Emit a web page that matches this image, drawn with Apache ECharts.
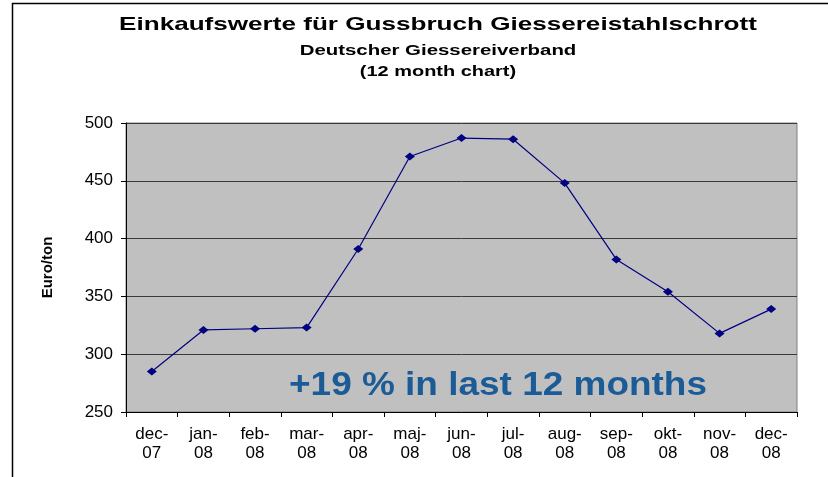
<!DOCTYPE html>
<html>
<head>
<meta charset="utf-8">
<script src="https://cdn.jsdelivr.net/npm/echarts@6/dist/echarts.min.js"></script>
<style>
  html, body { margin: 0; padding: 0; background: #fff; }
  #chart { width: 828px; height: 477px; }
</style>
</head>
<body>
<div id="chart"></div>
<script>
// Monatswerte (Euro/ton)
var months = ['dec-\n07', 'jan-\n08', 'feb-\n08', 'mar-\n08', 'apr-\n08', 'maj-\n08', 'jun-\n08',
              'jul-\n08', 'aug-\n08', 'sep-\n08', 'okt-\n08', 'nov-\n08', 'dec-\n08'];
var prices = [285, 321, 322, 323, 391, 471, 487, 486, 448, 382, 354, 318, 339];
var yTicks = [250, 300, 350, 400, 450, 500];

var font = 'Liberation Sans, Arial, sans-serif';
var myChart = echarts.init(document.getElementById('chart'));

// Überschriften als Grafiktext, etwas in die Breite gezogen wie im Original
function headline(text, y, size, sx) {
    return {
        type: 'text', silent: true,
        x: 438, y: y, scaleX: sx,
        style: { text: text, fontFamily: font, fontSize: size, fontWeight: 'bold', fill: '#000',
                 align: 'center', verticalAlign: 'middle' }
    };
}

myChart.setOption({
    backgroundColor: '#fff',
    animation: false,
    graphic: [{
        // Rahmen
        type: 'rect', silent: true,
        shape: { x: 12.5, y: 3.5, width: 900, height: 600 },
        style: { fill: 'none', stroke: '#000', lineWidth: 1.5 }
    },
    headline('Einkaufswerte für Gussbruch Giessereistahlschrott', 24.5, 18.5, 1.41),
    headline('Deutscher Giessereiverband', 51, 15, 1.36),
    headline('(12 month chart)', 71.5, 15, 1.33),
    {
        type: 'text', silent: true, z: 10,
        x: 498, y: 386, scaleX: 1.12,
        style: {
            text: '+19 % in last 12 months',
            fontFamily: font, fontSize: 33, fontWeight: 'bold', fill: '#1b5b96',
            align: 'center', verticalAlign: 'middle'
        }
    }],
    grid: { left: 126, right: 31, top: 123, bottom: 65, show: true,
            backgroundColor: '#c0c0c0', borderColor: '#808080', borderWidth: 1 },
    xAxis: {
        type: 'category',
        data: months,
        boundaryGap: true,
        axisLine: { lineStyle: { color: '#000', width: 1 } },
        axisTick: { show: true, alignWithLabel: false, length: 5, lineStyle: { color: '#000' } },
        axisLabel: { fontFamily: font, fontSize: 17, color: '#000', margin: 13, lineHeight: 19, interval: 0 }
    },
    yAxis: {
        type: 'value',
        min: yTicks[0], max: yTicks[yTicks.length - 1], interval: 50,
        name: 'Euro/ton',
        nameLocation: 'middle',
        nameGap: 71,
        nameTextStyle: { fontFamily: font, fontSize: 15, fontWeight: 'bold', color: '#000' },
        axisLine: { show: true, lineStyle: { color: '#000', width: 1 } },
        axisTick: { show: true, length: 5, lineStyle: { color: '#000' } },
        axisLabel: { fontFamily: font, fontSize: 17, color: '#000', margin: 13 },
        splitLine: { lineStyle: { color: '#3a3a3a', width: 1 } }
    },
    series: [{
        type: 'line',
        data: prices,
        symbol: 'diamond',
        symbolSize: [10, 8],
        lineStyle: { color: '#000080', width: 1.2 },
        itemStyle: { color: '#000080' }
    }]
});
</script>
</body>
</html>
